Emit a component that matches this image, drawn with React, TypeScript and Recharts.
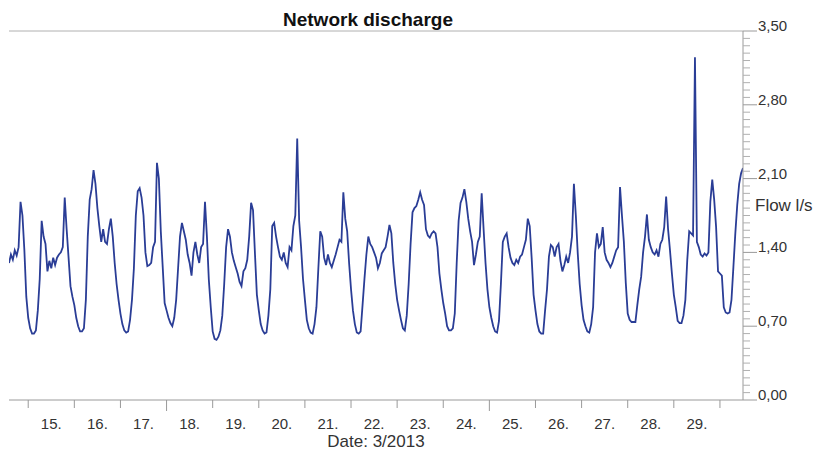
import { LineChart, Line, XAxis, YAxis, ReferenceLine } from "recharts";

// Flow readings in l/s, one value per hour. March 14 starts at 14:00, March 30 ends at 12:00.
const mar14 = [1.3, 1.38, 1.33, 1.42, 1.37, 1.45, 1.88, 1.75, 1.42, 0.98];
const mar15 = [0.78, 0.68, 0.63, 0.63, 0.66, 0.85, 1.15, 1.7, 1.55, 1.48, 1.22, 1.32, 1.25, 1.35, 1.28, 1.35, 1.38, 1.4, 1.45, 1.92, 1.62, 1.35, 1.08, 0.98];
const mar16 = [0.9, 0.78, 0.7, 0.65, 0.65, 0.68, 0.95, 1.55, 1.9, 2.0, 2.18, 2.05, 1.82, 1.65, 1.5, 1.62, 1.5, 1.48, 1.62, 1.72, 1.55, 1.3, 1.1, 0.95];
const mar17 = [0.82, 0.72, 0.66, 0.64, 0.65, 0.76, 0.95, 1.25, 1.75, 1.98, 2.01, 1.92, 1.75, 1.4, 1.27, 1.28, 1.3, 1.45, 1.5, 2.25, 2.1, 1.6, 1.26, 0.92];
const mar18 = [0.85, 0.78, 0.73, 0.7, 0.78, 0.95, 1.25, 1.55, 1.68, 1.6, 1.52, 1.38, 1.3, 1.18, 1.4, 1.5, 1.38, 1.3, 1.45, 1.48, 1.88, 1.55, 1.14, 0.88];
const mar19 = [0.65, 0.58, 0.57, 0.6, 0.66, 0.8, 1.1, 1.45, 1.62, 1.55, 1.4, 1.32, 1.26, 1.2, 1.12, 1.08, 1.22, 1.25, 1.33, 1.55, 1.87, 1.8, 1.39, 1.0];
const mar20 = [0.85, 0.72, 0.66, 0.63, 0.64, 0.8, 1.05, 1.65, 1.68, 1.55, 1.45, 1.36, 1.33, 1.4, 1.3, 1.26, 1.45, 1.42, 1.65, 1.75, 2.48, 1.7, 1.45, 1.15];
const mar21 = [0.95, 0.76, 0.68, 0.64, 0.63, 0.72, 0.88, 1.25, 1.6, 1.55, 1.35, 1.28, 1.38, 1.3, 1.26, 1.32, 1.38, 1.45, 1.52, 1.5, 1.97, 1.72, 1.6, 1.3];
const mar22 = [1.05, 0.85, 0.72, 0.64, 0.63, 0.65, 0.9, 1.15, 1.38, 1.55, 1.48, 1.45, 1.4, 1.35, 1.25, 1.3, 1.39, 1.42, 1.45, 1.55, 1.66, 1.58, 1.3, 1.1];
const mar23 = [0.95, 0.85, 0.76, 0.68, 0.66, 0.8, 1.1, 1.48, 1.78, 1.82, 1.84, 1.9, 1.97, 1.9, 1.85, 1.62, 1.56, 1.54, 1.58, 1.6, 1.58, 1.45, 1.2, 1.05];
const mar24 = [0.92, 0.82, 0.7, 0.66, 0.66, 0.68, 0.82, 1.3, 1.7, 1.87, 1.92, 2.0, 1.88, 1.72, 1.6, 1.5, 1.28, 1.38, 1.5, 1.55, 1.96, 1.62, 1.3, 1.05];
const mar25 = [0.88, 0.78, 0.7, 0.65, 0.64, 0.75, 1.1, 1.5, 1.55, 1.58, 1.45, 1.35, 1.3, 1.28, 1.33, 1.3, 1.36, 1.38, 1.45, 1.52, 1.72, 1.65, 1.35, 1.0];
const mar26 = [0.85, 0.72, 0.65, 0.63, 0.63, 0.85, 1.05, 1.36, 1.47, 1.45, 1.36, 1.45, 1.48, 1.32, 1.22, 1.28, 1.36, 1.3, 1.4, 1.55, 2.05, 1.75, 1.39, 1.1];
const mar27 = [0.9, 0.76, 0.7, 0.65, 0.64, 0.72, 0.88, 1.4, 1.58, 1.45, 1.48, 1.64, 1.4, 1.33, 1.3, 1.26, 1.3, 1.36, 1.42, 1.45, 2.02, 1.75, 1.5, 1.11];
const mar28 = [0.82, 0.76, 0.74, 0.74, 0.74, 0.9, 1.05, 1.17, 1.4, 1.55, 1.76, 1.52, 1.45, 1.4, 1.38, 1.42, 1.36, 1.48, 1.52, 1.64, 1.93, 1.62, 1.42, 1.2];
const mar29 = [1.0, 0.88, 0.75, 0.73, 0.73, 0.8, 0.95, 1.33, 1.6, 1.58, 1.56, 3.25, 1.5, 1.45, 1.38, 1.36, 1.39, 1.37, 1.4, 1.88, 2.09, 1.9, 1.64, 1.22];
const mar30 = [1.2, 1.18, 0.88, 0.83, 0.82, 0.83, 0.95, 1.26, 1.58, 1.85, 2.05, 2.15, 2.2];

const days = [14, 15, 16, 17, 18, 19, 20, 21, 22, 23, 24, 25, 26, 27, 28, 29, 30];
const hourly = [mar14, mar15, mar16, mar17, mar18, mar19, mar20, mar21, mar22, mar23, mar24, mar25, mar26, mar27, mar28, mar29, mar30];
const firstHour = 14;

const dayLabels = ["15.", "16.", "17.", "18.", "19.", "20.", "21.", "22.", "23.", "24.", "25.", "26.", "27.", "28.", "29."];
const mondays = [18, 25];
const yLabels = ["0,00", "0,70", "1,40", "2,10", "2,80", "3,50"];

const rows: { t: number; flow: number }[] = [];
hourly.forEach((vals, i) => {
  const start = i === 0 ? firstHour : 0;
  vals.forEach((v, k) => rows.push({ t: days[i] + (start + k) / 24, flow: v }));
});

// day boundaries get a tick line, the middle of each day gets the label
const xTicks: number[] = [];
for (let d = 15; d <= 30; d++) {
  xTicks.push(d);
  if (d < 30) xTicks.push(d + 0.5);
}
const yTicks = Array.from({ length: 51 }, (_, i) => Number((i * 0.07).toFixed(2)));

const axisGrey = "#9a9a9a";
const textColor = "#333";

const XTick = ({ x, y, payload }: any) => {
  const v = payload.value;
  if (Number.isInteger(v)) {
    const len = mondays.includes(v) ? 11 : 8;
    return <line x1={x} x2={x} y1={y} y2={y + len} stroke={axisGrey} />;
  }
  return (
    <text x={x} y={y + 29} textAnchor="middle" fontSize={15} fill={textColor}>
      {dayLabels[Math.floor(v) - 15]}
    </text>
  );
};

const YTick = ({ x, y, payload }: any) => {
  const step = Math.round(payload.value / 0.07);
  if (step % 10 === 0) {
    return (
      <g>
        <line x1={x} x2={x + 14} y1={y} y2={y} stroke={axisGrey} />
        <text x={x + 15} y={y} fontSize={15} fill={textColor}>
          {yLabels[step / 10]}
        </text>
      </g>
    );
  }
  return <line x1={x} x2={x + 7} y1={y} y2={y} stroke="#b0b0b0" />;
};

export default function App() {
  return (
    <div
      style={{
        position: "absolute",
        left: 0,
        top: 0,
        width: 817,
        height: 452,
        background: "#fff",
        fontFamily: "'Liberation Sans', Arial, sans-serif",
      }}
    >
      <div
        style={{
          position: "absolute",
          top: 9,
          left: 0,
          width: 736,
          textAlign: "center",
          fontWeight: "bold",
          fontSize: 19,
          lineHeight: "22px",
          color: "#111",
        }}
      >
        Network discharge
      </div>
      <div style={{ position: "absolute", left: 755, top: 196, fontSize: 17, lineHeight: "20px", color: textColor }}>
        Flow l/s
      </div>
      <LineChart width={817} height={452} data={rows} margin={{ top: 31, right: 0, bottom: 0, left: 9 }}>
        <ReferenceLine y={3.5} stroke="#b0b0b0" />
        <XAxis
          dataKey="t"
          type="number"
          domain={[14 + firstHour / 24, 30.5]}
          ticks={xTicks}
          interval={0}
          height={52}
          tickSize={0}
          tickMargin={0}
          tickLine={false}
          stroke={axisGrey}
          tick={XTick}
          allowDataOverflow
          label={{ value: "Date: 3/2013", position: "insideBottom", offset: 5, fontSize: 17, fill: textColor }}
        />
        <YAxis
          orientation="right"
          type="number"
          domain={[0, 3.5]}
          ticks={yTicks}
          interval={0}
          width={74}
          tickSize={0}
          tickMargin={0}
          tickLine={false}
          stroke={axisGrey}
          tick={YTick}
          allowDataOverflow
        />
        <Line
          type="linear"
          dataKey="flow"
          stroke="#2a3d96"
          strokeWidth={1.8}
          dot={false}
          isAnimationActive={false}
        />
      </LineChart>
    </div>
  );
}
